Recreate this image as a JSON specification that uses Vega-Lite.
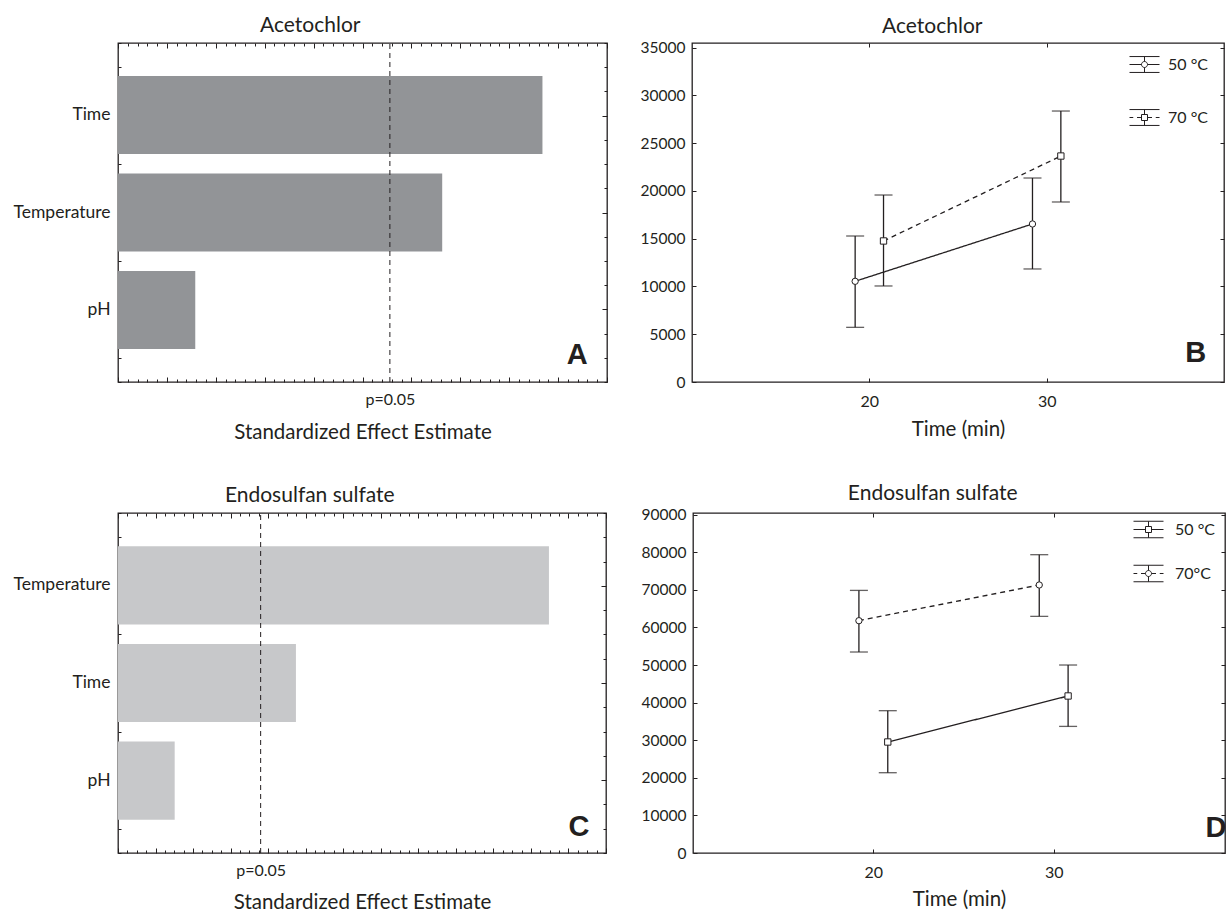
{
  "$schema": "https://vega.github.io/schema/vega-lite/v6.json",
  "padding": {"left": 12, "top": 14, "right": 0, "bottom": 0},
  "background": "white",
  "config": {
    "font": "Lato",
    "view": {"stroke": "#231f20", "strokeWidth": 1.3},
    "axis": {"labelFont": "Lato", "labelFontSize": 15.5, "labelColor": "#231f20", "titleFont": "Lato", "titleFontSize": 20.5, "titleFontWeight": "normal", "titleColor": "#231f20", "tickColor": "#231f20", "tickWidth": 1, "domain": false, "grid": false},
    "title": {"font": "Lato", "fontSize": 21, "fontWeight": "normal", "color": "#231f20", "frame": "bounds", "anchor": "middle"},
    "legend": {"labelFont": "Lato", "labelFontSize": 16, "labelColor": "#231f20", "padding": 0}
  },
  "spacing": 38,
  "resolve": {"scale": {"shape": "independent", "strokeDash": "independent"}, "legend": {"shape": "independent"}},
  "vconcat": [
    {
      "spacing": 30,
      "resolve": {"scale": {"shape": "independent", "strokeDash": "independent"}, "legend": {"shape": "independent"}},
      "hconcat": [
        {
          "width": 489, "height": 339,
          "title": {"text": "Acetochlor", "offset": 6.5},
          "layer": [
            {
              "data": {"values": [
                {"factor": "Time", "effect": 8.68},
                {"factor": "Temperature", "effect": 6.63},
                {"factor": "pH", "effect": 1.58}
              ]},
              "mark": {"type": "bar", "color": "#929497"},
              "encoding": {
                "y": {"field": "factor", "type": "nominal", "sort": ["Time", "Temperature", "pH"], "scale": {"paddingInner": 0.2, "paddingOuter": 0.34},
                  "axis": {"orient": "left", "title": null, "ticks": false, "domain": false, "labelPadding": 8, "labelFontSize": 17.5, "minExtent": 104, "maxExtent": 104}},
                "x": {"field": "effect", "type": "quantitative", "scale": {"domain": [0, 10], "nice": false},
                  "axis": {"orient": "bottom", "values": [0,0.2,0.4,0.6,0.8,1,1.2,1.4,1.6,1.8,2,2.2,2.4,2.6,2.8,3,3.2,3.4,3.6,3.8,4,4.2,4.4,4.6,4.8,5,5.2,5.4,5.6,5.8,6,6.2,6.4,6.6,6.8,7,7.2,7.4,7.6,7.8,8,8.2,8.4,8.6,8.8,9,9.2,9.4,9.6,9.8,10,5.56],
                    "tickSize": {"condition": {"test": "datum.value % 1 === 0", "value": -5}, "value": -3},
                    "tickOpacity": {"condition": {"test": "datum.value === 5.56", "value": 0}, "value": 1},
                    "labelExpr": "datum.value === 5.56 ? 'p=0.05' : ''", "labelOverlap": false, "labelFlush": false, "labelPadding": 12, "labelFontSize": 16,
                    "title": "Standardized Effect Estimate", "titlePadding": 15}}
              }
            },
            {
              "data": {"values": [{"p": 5.56}]},
              "mark": {"type": "rule", "color": "#231f20", "strokeDash": [5, 4], "strokeWidth": 1},
              "encoding": {
                "x": {"field": "p", "type": "quantitative", "scale": {"domain": [0, 10], "nice": false},
                  "axis": {"orient": "top", "values": [0,0.2,0.4,0.6,0.8,1,1.2,1.4,1.6,1.8,2,2.2,2.4,2.6,2.8,3,3.2,3.4,3.6,3.8,4,4.2,4.4,4.6,4.8,5,5.2,5.4,5.6,5.8,6,6.2,6.4,6.6,6.8,7,7.2,7.4,7.6,7.8,8,8.2,8.4,8.6,8.8,9,9.2,9.4,9.6,9.8,10],
                    "tickSize": {"condition": {"test": "datum.value % 1 === 0", "value": -5}, "value": -3}, "labels": false, "title": null, "minExtent": 0, "maxExtent": 0}},
                "y": {"datum": 0.25, "type": "quantitative", "scale": {"domain": [0.25, 3.75], "nice": false, "zero": false},
                  "axis": {"orient": "left", "values": [0.25,0.5,0.75,1,1.25,1.5,1.75,2,2.25,2.5,2.75,3,3.25,3.5,3.75],
                    "tickSize": {"condition": {"test": "datum.value % 1 === 0", "value": -5}, "value": -3}, "labels": false, "title": null, "minExtent": 0, "maxExtent": 0}},
                "y2": {"datum": 3.75}
              }
            },
            {
              "data": {"values": [{"panel": "A"}]},
              "mark": {"type": "text", "font": "Liberation Sans", "fontWeight": "bold", "fontSize": 29, "color": "#231f20", "align": "center", "baseline": "alphabetic"},
              "encoding": {
                "text": {"field": "panel"},
                "x": {"datum": 9.39, "type": "quantitative", "scale": {"domain": [0, 10], "nice": false}, "axis": null},
                "y": {"datum": 0.44, "type": "quantitative", "scale": {"domain": [0.25, 3.75], "nice": false, "zero": false},
                  "axis": {"orient": "right", "values": [0.25,0.5,0.75,1,1.25,1.5,1.75,2,2.25,2.5,2.75,3,3.25,3.5,3.75],
                    "tickSize": {"condition": {"test": "datum.value % 1 === 0", "value": -5}, "value": -3}, "labels": false, "title": null, "minExtent": 0, "maxExtent": 0}}
              }
            }
          ],
          "resolve": {"scale": {"y": "independent"}, "axis": {"x": "independent", "y": "independent"}}
        },
        {
          "width": 532, "height": 339,
          "title": {"text": "Acetochlor", "offset": 3.5},
          "data": {"values": [
            {"temp": "50 °C", "time": 19.2, "mean": 10540, "lo": 5720, "hi": 15280},
            {"temp": "50 °C", "time": 29.2, "mean": 16540, "lo": 11830, "hi": 21350},
            {"temp": "70 °C", "time": 20.8, "mean": 14760, "lo": 10050, "hi": 19570},
            {"temp": "70 °C", "time": 30.8, "mean": 23650, "lo": 18840, "hi": 28360}
          ]},
          "layer": [
            {
              "mark": {"type": "line", "color": "#231f20", "strokeWidth": 1.3},
              "encoding": {
                "x": {"field": "time", "type": "quantitative", "scale": {"domain": [10, 40], "nice": false, "zero": false},
                  "axis": {"orient": "bottom", "values": [20, 30], "tickSize": -4, "labelPadding": 15, "labelFontSize": 16, "title": "Time (min)", "titlePadding": 10}},
                "y": {"field": "mean", "type": "quantitative", "scale": {"domain": [0, 35480], "nice": false},
                  "axis": {"orient": "left", "values": [0,5000,10000,15000,20000,25000,30000,35000], "format": "d", "tickSize": -4, "labelPadding": 11, "title": null, "minExtent": 52, "maxExtent": 52}},
                "strokeDash": {"field": "temp", "type": "nominal", "scale": {"range": [[1, 0], [5, 4]]}, "legend": null}
              }
            },
            {
              "mark": {"type": "errorbar", "color": "#231f20", "thickness": 1.3, "ticks": {"size": 18}},
              "encoding": {
                "x": {"field": "time", "type": "quantitative", "scale": {"domain": [10, 40], "nice": false, "zero": false}, "axis": null},
                "y": {"field": "lo", "type": "quantitative", "scale": {"domain": [0, 35480], "nice": false}, "axis": null},
                "y2": {"field": "hi"}
              }
            },
            {
              "mark": {"type": "point", "filled": true, "fill": "white", "stroke": "#231f20", "strokeWidth": 1, "size": 40, "opacity": 1},
              "encoding": {
                "x": {"field": "time", "type": "quantitative", "scale": {"domain": [10, 40], "nice": false, "zero": false},
                  "axis": {"orient": "top", "values": [20, 30], "tickSize": -4, "labels": false, "title": null, "minExtent": 0, "maxExtent": 0}},
                "y": {"field": "mean", "type": "quantitative", "scale": {"domain": [0, 35480], "nice": false},
                  "axis": {"orient": "right", "values": [0,5000,10000,15000,20000,25000,30000,35000], "tickSize": -4, "labels": false, "title": null, "minExtent": 0, "maxExtent": 0}},
                "shape": {"field": "temp", "type": "nominal", "scale": {"range": ["circle", "square"]}, "legend": null}
              }
            },
            {
              "transform": [{"filter": "false"}],
              "mark": {"type": "point", "filled": true, "fill": "white", "stroke": "#231f20", "strokeWidth": 1, "opacity": 1},
              "encoding": {
                "shape": {"field": "temp", "type": "nominal",
                  "scale": {"domain": ["50 °C", "70 °C"], "range": ["M-1,-0.53H1M-1,0.53H1M0,-0.53V-0.2M0,0.2V0.53M-1,0H-0.2M0.2,0H1M-0.2,0A0.2,0.2,0,1,0,0.2,0A0.2,0.2,0,1,0,-0.2,0Z", "M-1,-0.53H1M-1,0.53H1M0,-0.53V-0.2M0,0.2V0.53M-1,0H-0.75M-0.5,0H-0.2M0.2,0H0.5M0.75,0H1M-0.2,-0.2H0.2V0.2H-0.2Z"]},
                  "legend": {"orient": "none", "legendX": 437, "legendY": 6, "title": null, "symbolSize": 900, "symbolStrokeWidth": 1, "labelOffset": 8, "rowPadding": 27}}
              }
            },
            {
              "data": {"values": [{"panel": "B"}]},
              "mark": {"type": "text", "font": "Liberation Sans", "fontWeight": "bold", "fontSize": 29, "color": "#231f20", "align": "center", "baseline": "alphabetic"},
              "encoding": {
                "text": {"field": "panel"},
                "x": {"datum": 38.4, "type": "quantitative", "scale": {"domain": [10, 40], "nice": false, "zero": false}, "axis": null},
                "y": {"datum": 2060, "type": "quantitative", "scale": {"domain": [0, 35480], "nice": false}, "axis": null}
              }
            }
          ],
          "resolve": {"scale": {"shape": "independent"}, "axis": {"x": "independent", "y": "independent"}}
        }
      ]
    },
    {
      "spacing": 30,
      "resolve": {"scale": {"shape": "independent", "strokeDash": "independent"}, "legend": {"shape": "independent"}},
      "hconcat": [
        {
          "width": 488, "height": 340,
          "title": {"text": "Endosulfan sulfate", "offset": 6.5},
          "layer": [
            {
              "data": {"values": [
                {"factor": "Temperature", "effect": 11.48},
                {"factor": "Time", "effect": 4.74},
                {"factor": "pH", "effect": 1.51}
              ]},
              "mark": {"type": "bar", "color": "#c7c8ca"},
              "encoding": {
                "y": {"field": "factor", "type": "nominal", "sort": ["Temperature", "Time", "pH"], "scale": {"paddingInner": 0.2, "paddingOuter": 0.34},
                  "axis": {"orient": "left", "title": null, "ticks": false, "domain": false, "labelPadding": 8, "labelFontSize": 17.5, "minExtent": 103, "maxExtent": 103}},
                "x": {"field": "effect", "type": "quantitative", "scale": {"domain": [0, 13], "nice": false},
                  "axis": {"orient": "bottom", "values": [0,0.25,0.5,0.75,1,1.25,1.5,1.75,2,2.25,2.5,2.75,3,3.25,3.5,3.75,4,4.25,4.5,4.75,5,5.25,5.5,5.75,6,6.25,6.5,6.75,7,7.25,7.5,7.75,8,8.25,8.5,8.75,9,9.25,9.5,9.75,10,10.25,10.5,10.75,11,11.25,11.5,11.75,12,12.25,12.5,12.75,13,3.8],
                    "tickSize": {"condition": {"test": "datum.value % 1 === 0", "value": -5}, "value": -3},
                    "tickOpacity": {"condition": {"test": "datum.value === 3.8", "value": 0}, "value": 1},
                    "labelExpr": "datum.value === 3.8 ? 'p=0.05' : ''", "labelOverlap": false, "labelFlush": false, "labelPadding": 12, "labelFontSize": 16,
                    "title": "Standardized Effect Estimate", "titlePadding": 14}}
              }
            },
            {
              "data": {"values": [{"p": 3.8}]},
              "mark": {"type": "rule", "color": "#231f20", "strokeDash": [5, 4], "strokeWidth": 1},
              "encoding": {
                "x": {"field": "p", "type": "quantitative", "scale": {"domain": [0, 13], "nice": false},
                  "axis": {"orient": "top", "values": [0,0.25,0.5,0.75,1,1.25,1.5,1.75,2,2.25,2.5,2.75,3,3.25,3.5,3.75,4,4.25,4.5,4.75,5,5.25,5.5,5.75,6,6.25,6.5,6.75,7,7.25,7.5,7.75,8,8.25,8.5,8.75,9,9.25,9.5,9.75,10,10.25,10.5,10.75,11,11.25,11.5,11.75,12,12.25,12.5,12.75,13],
                    "tickSize": {"condition": {"test": "datum.value % 1 === 0", "value": -5}, "value": -3}, "labels": false, "title": null, "minExtent": 0, "maxExtent": 0}},
                "y": {"datum": 0.25, "type": "quantitative", "scale": {"domain": [0.25, 3.75], "nice": false, "zero": false},
                  "axis": {"orient": "left", "values": [0.25,0.5,0.75,1,1.25,1.5,1.75,2,2.25,2.5,2.75,3,3.25,3.5,3.75],
                    "tickSize": {"condition": {"test": "datum.value % 1 === 0", "value": -5}, "value": -3}, "labels": false, "title": null, "minExtent": 0, "maxExtent": 0}},
                "y2": {"datum": 3.75}
              }
            },
            {
              "data": {"values": [{"panel": "C"}]},
              "mark": {"type": "text", "font": "Liberation Sans", "fontWeight": "bold", "fontSize": 29, "color": "#231f20", "align": "center", "baseline": "alphabetic"},
              "encoding": {
                "text": {"field": "panel"},
                "x": {"datum": 12.28, "type": "quantitative", "scale": {"domain": [0, 13], "nice": false}, "axis": null},
                "y": {"datum": 0.425, "type": "quantitative", "scale": {"domain": [0.25, 3.75], "nice": false, "zero": false},
                  "axis": {"orient": "right", "values": [0.25,0.5,0.75,1,1.25,1.5,1.75,2,2.25,2.5,2.75,3,3.25,3.5,3.75],
                    "tickSize": {"condition": {"test": "datum.value % 1 === 0", "value": -5}, "value": -3}, "labels": false, "title": null, "minExtent": 0, "maxExtent": 0}}
              }
            }
          ],
          "resolve": {"scale": {"y": "independent"}, "axis": {"x": "independent", "y": "independent"}}
        },
        {
          "width": 532, "height": 340,
          "title": {"text": "Endosulfan sulfate", "offset": 3.5},
          "data": {"values": [
            {"temp": "50 °C", "time": 20.8, "mean": 29530, "lo": 21360, "hi": 37860},
            {"temp": "50 °C", "time": 30.8, "mean": 41770, "lo": 33680, "hi": 50010},
            {"temp": "70°C", "time": 19.2, "mean": 61800, "lo": 53470, "hi": 69860},
            {"temp": "70°C", "time": 29.2, "mean": 71300, "lo": 62950, "hi": 79360}
          ]},
          "layer": [
            {
              "mark": {"type": "line", "color": "#231f20", "strokeWidth": 1.3},
              "encoding": {
                "x": {"field": "time", "type": "quantitative", "scale": {"domain": [10, 39.5], "nice": false, "zero": false},
                  "axis": {"orient": "bottom", "values": [20, 30], "tickSize": -4, "labelPadding": 15, "labelFontSize": 16, "title": "Time (min)", "titlePadding": 9}},
                "y": {"field": "mean", "type": "quantitative", "scale": {"domain": [0, 90450], "nice": false},
                  "axis": {"orient": "left", "values": [0,10000,20000,30000,40000,50000,60000,70000,80000,90000], "format": "d", "tickSize": -4, "labelPadding": 11, "title": null, "minExtent": 54, "maxExtent": 54}},
                "strokeDash": {"field": "temp", "type": "nominal", "scale": {"range": [[1, 0], [5, 4]]}, "legend": null}
              }
            },
            {
              "mark": {"type": "errorbar", "color": "#231f20", "thickness": 1.3, "ticks": {"size": 18}},
              "encoding": {
                "x": {"field": "time", "type": "quantitative", "scale": {"domain": [10, 39.5], "nice": false, "zero": false}, "axis": null},
                "y": {"field": "lo", "type": "quantitative", "scale": {"domain": [0, 90450], "nice": false}, "axis": null},
                "y2": {"field": "hi"}
              }
            },
            {
              "mark": {"type": "point", "filled": true, "fill": "white", "stroke": "#231f20", "strokeWidth": 1, "size": 40, "opacity": 1},
              "encoding": {
                "x": {"field": "time", "type": "quantitative", "scale": {"domain": [10, 39.5], "nice": false, "zero": false},
                  "axis": {"orient": "top", "values": [20, 30], "tickSize": -4, "labels": false, "title": null, "minExtent": 0, "maxExtent": 0}},
                "y": {"field": "mean", "type": "quantitative", "scale": {"domain": [0, 90450], "nice": false},
                  "axis": {"orient": "right", "values": [0,10000,20000,30000,40000,50000,60000,70000,80000,90000], "tickSize": -4, "labels": false, "title": null, "minExtent": 0, "maxExtent": 0}},
                "shape": {"field": "temp", "type": "nominal", "scale": {"range": ["square", "circle"]}, "legend": null}
              }
            },
            {
              "transform": [{"filter": "false"}],
              "mark": {"type": "point", "filled": true, "fill": "white", "stroke": "#231f20", "strokeWidth": 1, "opacity": 1},
              "encoding": {
                "shape": {"field": "temp", "type": "nominal",
                  "scale": {"domain": ["50 °C", "70°C"], "range": ["M-1,-0.55H1M-1,0.55H1M0,-0.55V-0.2M0,0.2V0.55M-1,0H-0.2M0.2,0H1M-0.2,-0.2H0.2V0.2H-0.2Z", "M-1,-0.55H1M-1,0.55H1M0,-0.55V-0.2M0,0.2V0.55M-1,0H-0.75M-0.5,0H-0.2M0.2,0H0.5M0.75,0H1M-0.2,0A0.2,0.2,0,1,0,0.2,0A0.2,0.2,0,1,0,-0.2,0Z"]},
                  "legend": {"orient": "none", "legendX": 440, "legendY": 1, "title": null, "symbolSize": 900, "symbolStrokeWidth": 1, "labelOffset": 11, "rowPadding": 18}}
              }
            },
            {
              "data": {"values": [{"panel": "D"}]},
              "mark": {"type": "text", "font": "Liberation Sans", "fontWeight": "bold", "fontSize": 29, "color": "#231f20", "align": "center", "baseline": "alphabetic"},
              "encoding": {
                "text": {"field": "panel"},
                "x": {"datum": 39.0, "type": "quantitative", "scale": {"domain": [10, 39.5], "nice": false, "zero": false}, "axis": null},
                "y": {"datum": 4340, "type": "quantitative", "scale": {"domain": [0, 90450], "nice": false}, "axis": null}
              }
            }
          ],
          "resolve": {"scale": {"shape": "independent"}, "axis": {"x": "independent", "y": "independent"}}
        }
      ]
    }
  ]
}
